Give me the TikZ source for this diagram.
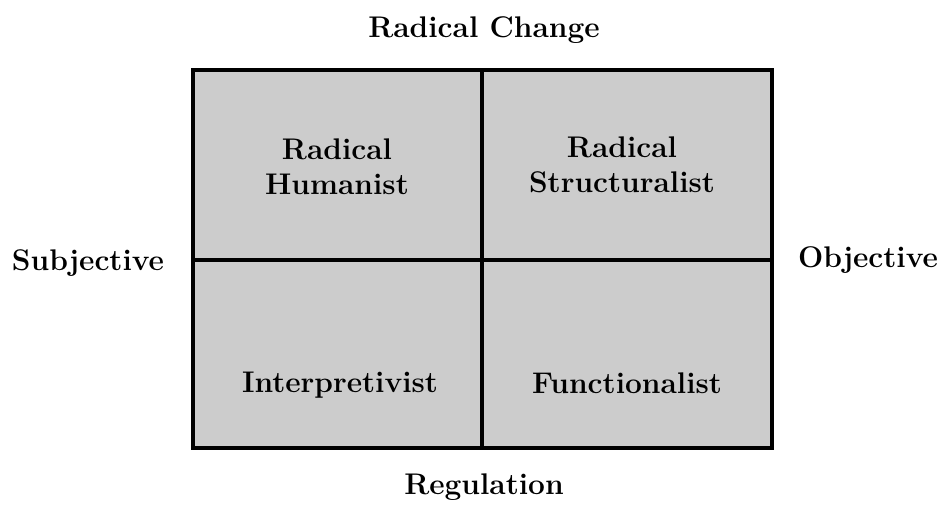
\documentclass[tikz,border=0pt]{standalone}
\usepackage{xcolor}
\usepackage{tikz}

\tikzset{
  paradigm/.style={font=\fontsize{17}{20}\selectfont\bfseries, align=center},
  axislabel/.style={font=\fontsize{17}{20}\selectfont\bfseries}
}

\begin{document}
\begin{tikzpicture}[x=0.02cm, y=-0.02cm]
\useasboundingbox (0,0) rectangle (938,510);

% Grid of the four paradigms
\fill[black!20] (193,70) rectangle (772,448);
\draw[line width=2.2pt] (193,70) rectangle (772,448);
\draw[line width=2.2pt] (482,70) -- (482,448);
\draw[line width=2.2pt] (193,260) -- (772,260);

% Paradigm labels
\node[paradigm] (humanist) at (337,167) {Radical\\Humanist};
\node[paradigm] (structuralist) at (622,165) {Radical\\Structuralist};
\node[paradigm] (interpretivist) at (340,385) {Interpretivist};
\node[paradigm] (functionalist) at (627,383) {Functionalist};

% Axis labels
\node[axislabel] (change) at (484,30) {Radical Change};
\node[axislabel] (regulation) at (484,487) {Regulation};
\node[axislabel] (subjective) at (88,263) {Subjective};
\node[axislabel] (objective) at (868,260) {Objective};
\end{tikzpicture}
\end{document}
